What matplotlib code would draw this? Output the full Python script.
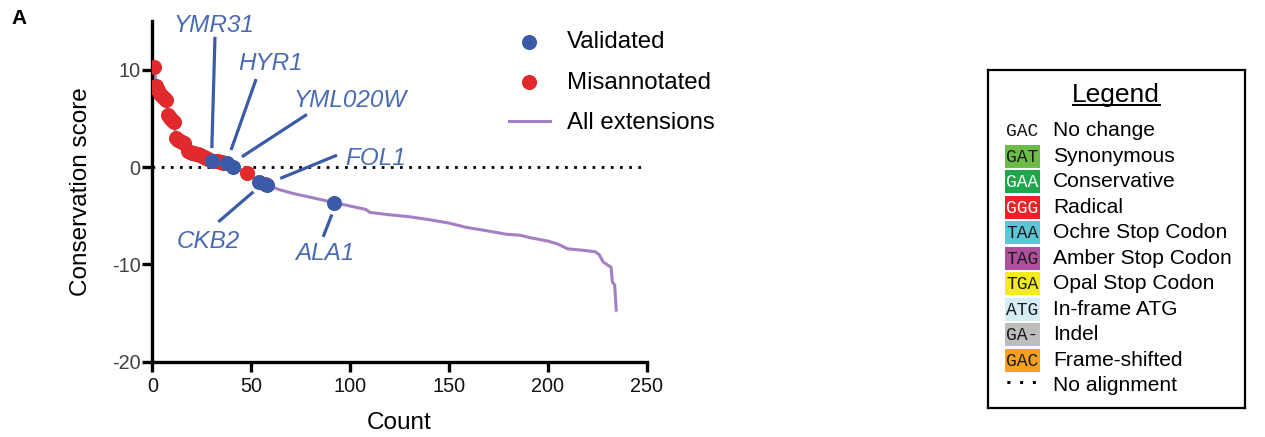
import matplotlib
matplotlib.use("Agg")
import matplotlib.pyplot as plt
from matplotlib.patches import Rectangle

plt.rcParams['font.family'] = ['Liberation Sans', 'DejaVu Sans']
plt.rcParams['axes.unicode_minus'] = False

# misannotated extensions (red)
mis_x = [1, 2, 3, 4, 5, 6, 7, 8, 9, 10, 11, 12, 13, 14, 15, 16, 18, 19, 20, 21,
         22, 23, 24, 25, 26, 27, 28, 32, 33, 34, 35, 36, 48, 57]
mis_y = [10.3, 8.3, 7.9, 7.5, 7.3, 7.1, 6.9, 5.4, 5.1, 4.8, 4.6, 3.0, 2.8, 2.7, 2.6, 2.5,
         1.7, 1.6, 1.5, 1.45, 1.4, 1.3, 1.2, 1.1, 1.05, 0.95, 0.8, 0.62, 0.58, 0.55, 0.5, 0.45,
         -0.6, -1.75]

# validated extensions (blue)
val_names = ["YMR31", "HYR1", "YML020W", "CKB2", "FOL1", "ALA1"]
val_x = [30, 38, 41, 54, 58, 92]
val_y = [0.65, 0.38, 0.05, -1.5, -1.85, -3.65]

# all extensions, ranked
line_x = [1, 2, 3, 4, 5, 6, 7, 8, 9, 10, 11, 12, 13, 14, 15, 16, 18, 19, 20, 21,
          22, 23, 24, 25, 26, 27, 28, 30, 32, 34, 36, 38, 41, 48, 54, 57, 58,
          64, 71, 80, 92, 100, 108, 110, 120, 130, 140, 150, 159, 168, 179, 186,
          191, 200, 205, 210, 218, 224, 226, 228, 232, 232.6, 233.8, 234.6]
line_y = [10.3, 8.3, 7.9, 7.5, 7.3, 7.1, 6.9, 5.4, 5.1, 4.8, 4.6, 3.0, 2.8, 2.7, 2.6, 2.5,
          1.7, 1.6, 1.5, 1.45, 1.4, 1.3, 1.2, 1.1, 1.05, 0.95, 0.8, 0.65, 0.62, 0.55, 0.45,
          0.38, 0.05, -0.6, -1.5, -1.75, -1.85,
          -2.3, -2.7, -3.1, -3.65, -4.0, -4.35, -4.65, -4.9, -5.1, -5.4, -5.75, -6.2, -6.5,
          -6.9, -7.0, -7.25, -7.6, -7.9, -8.4, -8.55, -8.7, -9.0, -9.75, -10.3, -11.8,
          -12.1, -14.7]

# label placement: text (x, baseline y), leader line from -> to
label_pos = [(31.2, 13.9), (59.8, 9.98), (99.8, 6.17), (28.3, -8.33), (112.8, 0.2), (87.2, -9.57)]
leader_from = [(31.7, 13.4), (52.5, 9.05), (78.2, 5.42), (51.1, -2.54), (64.7, -1.16), (90.8, -4.87)]
leader_to = [(30.1, 1.96), (39.8, 1.75), (45.3, 1.06), (33.4, -5.63), (93.4, 1.23), (86.4, -7.17)]

# codon legend
codons = ["GAC", "GAT", "GAA", "GGG", "TAA", "TAG", "TGA", "ATG", "GA-", "GAC", None]
codon_colors = [None, "#6cbd45", "#1fa64b", "#ec2227", "#5ec5d9", "#b04f9f",
                "#f4ea1c", "#d6edf6", "#bdbdbd", "#f7a11e", None]
codon_text = ["#111111", "#1a1a1a", "white", "white", "#1a1a1a", "#1a1a1a",
              "#1a1a1a", "#1a1a1a", "#1a1a1a", "#1a1a1a", None]
change_labels = ["No change", "Synonymous", "Conservative", "Radical", "Ochre Stop Codon",
                 "Amber Stop Codon", "Opal Stop Codon", "In-frame ATG", "Indel",
                 "Frame-shifted", "No alignment"]

blue = "#3b5ba8"
red = "#e02a2b"
purple = "#a47fc4"

W, H = 1265, 437
fig = plt.figure(figsize=(W / 100, H / 100), dpi=100)
ax = fig.add_axes([152.3 / W, 1 - 361.7 / H, 494.4 / W, 340.5 / H])

ax.axhline(0, color="black", lw=2, ls=(0, (1, 2.3)), zorder=1)
ax.plot(line_x, line_y, color=purple, lw=2.2, zorder=2, label="All extensions")
ax.scatter(mis_x, mis_y, s=118, color=red, zorder=3, linewidths=0, label="Misannotated")
ax.scatter(val_x, val_y, s=118, color=blue, zorder=4, linewidths=0, label="Validated")

for name, (tx, ty), p0, p1 in zip(val_names, label_pos, leader_from, leader_to):
    ax.plot([p0[0], p1[0]], [p0[1], p1[1]], color=blue, lw=2.3, solid_capstyle="butt", zorder=5)
    ax.text(tx, ty, name, ha="center", va="baseline", fontsize=17.5, style="italic",
            color="#4a6bb4", zorder=6)

ax.set_xlim(0, 250)
ax.set_ylim(-20, 15)
ax.set_xticks([0, 50, 100, 150, 200, 250])
ax.set_yticks([-20, -10, 0, 10])
for s in ["top", "right"]:
    ax.spines[s].set_visible(False)
for s in ["left", "bottom"]:
    ax.spines[s].set_linewidth(2.4)
ax.tick_params(axis="both", length=7, width=2.4, labelsize=14.3)
ax.tick_params(axis="y", pad=1.5, labelcolor="#404040")
ax.tick_params(axis="x", pad=4, labelcolor="#111111")
ax.set_xlabel("Count", fontsize=17.5)
ax.set_ylabel("Conservation score", fontsize=17.5)
ax.xaxis.set_label_coords(0.5, -0.148)
ax.yaxis.set_label_coords(-0.122, 0.5)

handles, labels = ax.get_legend_handles_labels()
order = [2, 1, 0]
leg = ax.legend([handles[i] for i in order], [labels[i] for i in order],
                loc="upper left", bbox_to_anchor=(509 / W, 1 - 31 / H),
                bbox_transform=fig.transFigure, frameon=False, fontsize=17.3,
                handlelength=1.7, handletextpad=0.72, labelspacing=0.78,
                borderpad=0, borderaxespad=0)

fig.text(19.5 / W, 1 - 18.5 / H, "A", fontsize=15, weight="bold", ha="center", va="center")

# codon key box
lax = fig.add_axes([988 / W, (H - 408) / H, 257 / W, 338 / H])
lax.set_xlim(0, 257)
lax.set_ylim(338, 0)
lax.set_xticks([])
lax.set_yticks([])
for s in lax.spines.values():
    s.set_linewidth(1.6)
lax.text(128, 25, "Legend", fontsize=19, ha="center", va="center")
lax.plot([85, 172], [34.5, 34.5], color="black", lw=1.4)
for i, (cod, col, tcol, lab) in enumerate(zip(codons, codon_colors, codon_text, change_labels)):
    yy = 61 + i * 25.45
    if col is not None:
        lax.add_patch(Rectangle((17, yy - 11.5), 35, 23, facecolor=col, edgecolor="none"))
    if cod is not None:
        lax.text(34.5, yy + 1, cod, fontsize=13, family="Liberation Mono", color=tcol,
                 ha="center", va="center")
    else:
        lax.text(34.5, yy - 2, "\u00b7 \u00b7 \u00b7", fontsize=15, weight="bold",
                 ha="center", va="center")
    lax.text(65, yy, lab, fontsize=15.1, ha="left", va="center")

fig.savefig("out.png", dpi=100)
